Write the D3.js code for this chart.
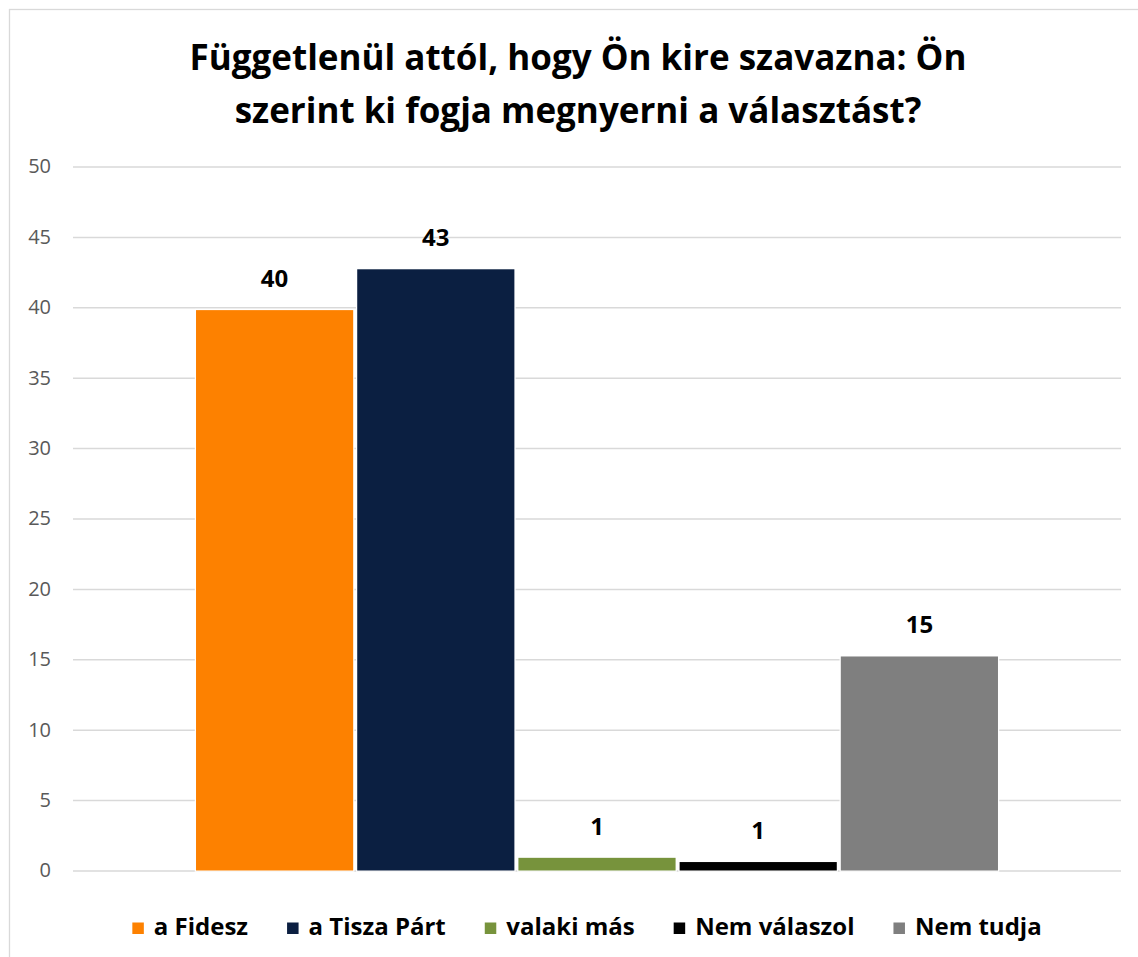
<!DOCTYPE html>
<html><head><meta charset="utf-8">
<script src="https://cdn.jsdelivr.net/npm/d3@7"></script>
<style>html,body{margin:0;padding:0;background:#fff;}</style>
</head><body>
<svg id="c" width="1138" height="957"></svg>
<script>
const titleLines = ["Függetlenül attól, hogy Ön kire szavazna: Ön", "szerint ki fogja megnyerni a választást?"];
const seriesNames = ["a Fidesz", "a Tisza Párt", "valaki más", "Nem válaszol", "Nem tudja"];
const seriesValues = [39.8, 42.7, 0.9, 0.6, 15.2];
const valueLabels = ["40", "43", "1", "1", "15"];
const seriesColors = ["#fd8100", "#0b1f41", "#77933c", "#000000", "#7f7f7f"];
const yTicks = [0, 5, 10, 15, 20, 25, 30, 35, 40, 45, 50];

const svg = d3.select("#c");
const FONT = "'Open Sans', 'Noto Sans', sans-serif";

// chart border
svg.append("rect").attr("x", 9.5).attr("y", 9.5).attr("width", 1140).attr("height", 960)
  .attr("fill", "#fff").attr("stroke", "#d9d9d9").attr("stroke-width", 1.3);

const plot = {left: 73, right: 1121, top: 166.5, bottom: 870.5};
const y = d3.scaleLinear().domain([0, 50]).range([plot.bottom, plot.top]);
const x0 = d3.scaleBand().domain(["g"]).range([plot.left, plot.right]).paddingInner(0).paddingOuter(0.1534);
const x1 = d3.scaleBand().domain(seriesNames).range([0, x0.bandwidth()]).paddingInner(0.025).paddingOuter(0);

// gridlines
const yAxis = d3.axisLeft(y).tickValues(yTicks).tickSize(-(plot.right - plot.left)).tickPadding(22);
const gy = svg.append("g").attr("transform", `translate(${plot.left},0)`).call(yAxis);
gy.select(".domain").remove();
gy.selectAll(".tick line").attr("stroke", "#d9d9d9").attr("stroke-width", 1.5);
gy.selectAll(".tick text").attr("fill", "#595959").style("font-family", FONT).style("font-size", "20px");

// bars
const data = seriesNames.map((n, i) => ({name: n, value: seriesValues[i], label: valueLabels[i], color: seriesColors[i]}));
const bg = svg.append("g").attr("transform", `translate(${x0("g")},0)`);
bg.selectAll("rect.bar").data(data).enter().append("rect")
  .attr("class", "bar")
  .attr("x", d => x1(d.name)).attr("width", x1.bandwidth())
  .attr("y", d => y(d.value)).attr("height", d => y(0) - y(d.value))
  .attr("fill", d => d.color).attr("stroke", "#fff").attr("stroke-width", 2.5).attr("paint-order", "stroke");

bg.selectAll("text.lbl").data(data).enter().append("text")
  .attr("class", "lbl")
  .attr("x", d => x1(d.name) + x1.bandwidth() / 2)
  .attr("y", d => y(d.value) - 23)
  .attr("text-anchor", "middle")
  .style("font-family", FONT).style("font-weight", "bold").style("font-size", "24px").attr("fill", "#000")
  .text(d => d.label);

// title
const tt = svg.append("text").attr("text-anchor", "middle")
  .style("font-family", FONT).style("font-weight", "bold").style("font-size", "35px").attr("fill", "#000");
titleLines.forEach((l, i) => tt.append("tspan").attr("x", 578).attr("y", 70 + i * 53).text(l));

// legend
const lg = svg.append("g");
const items = lg.selectAll("g.it").data(data).enter().append("g").attr("class", "it");
items.append("rect").attr("width", 11.5).attr("height", 11.5).attr("y", -12.5).attr("fill", d => d.color);
items.append("text").attr("x", 21.5).attr("y", 0)
  .style("font-family", FONT).style("font-weight", "bold").style("font-size", "24px").attr("fill", "#000")
  .text(d => d.name);
let cx = 0;
items.each(function() {
  const g = d3.select(this);
  g.attr("transform", `translate(${cx},0)`);
  const w = g.select("text").node().getComputedTextLength();
  cx += 21.5 + w + 39;
});
const totalW = cx - 39;
lg.attr("transform", `translate(${587 - totalW / 2},935)`);
</script>
</body></html>
